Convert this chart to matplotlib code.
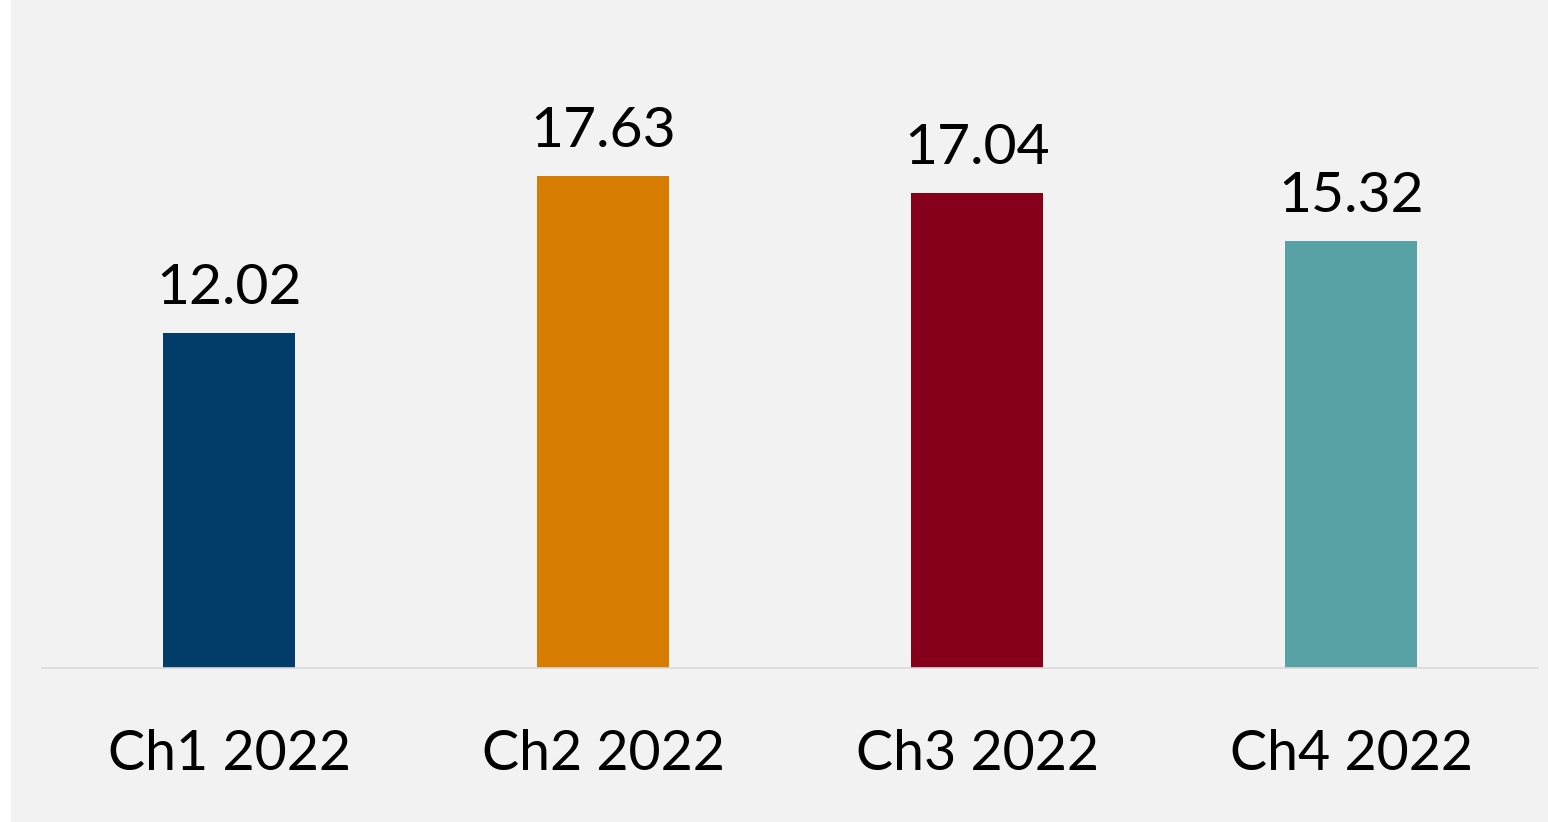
import matplotlib
matplotlib.use("Agg")
import matplotlib.pyplot as plt
from matplotlib.patches import Rectangle

categories = ["Ch1 2022", "Ch2 2022", "Ch3 2022", "Ch4 2022"]
values = [12.02, 17.63, 17.04, 15.32]
colors = ["#023C69", "#D67C00", "#86001B", "#58A2A5"]

W, H = 1548, 822
fig = plt.figure(figsize=(W / 100, H / 100), dpi=100, facecolor="#F2F2F2")
fig.patches.append(Rectangle((0, 0), 11 / W, 1, transform=fig.transFigure,
                             facecolor="white", edgecolor="none", zorder=0))

ax = fig.add_axes([42 / W, (H - 668) / H, (1538 - 42) / W, 668 / H])
ax.set_facecolor("#F2F2F2")
x = range(len(categories))
bars = ax.bar(x, values, width=0.355, color=colors, zorder=2)
ax.set_xlim(-0.5, len(categories) - 0.5)
ax.set_ylim(0, 23.95)

for s in ["top", "left", "right"]:
    ax.spines[s].set_visible(False)
ax.spines["bottom"].set_color("#D9D9D9")
ax.spines["bottom"].set_linewidth(1.2)
ax.set_yticks([])
ax.set_xticks(list(x))
ax.set_xticklabels(categories, fontsize=40, family="Lato", color="black")
ax.tick_params(axis="x", length=0, pad=44)

for xi, v in zip(x, values):
    ax.annotate(f"{v:.2f}", (xi, v), xytext=(0, 21), textcoords="offset points",
                ha="center", va="baseline", fontsize=41, family="Lato", color="black")

fig.savefig("out.png", dpi=100, facecolor=fig.get_facecolor())
